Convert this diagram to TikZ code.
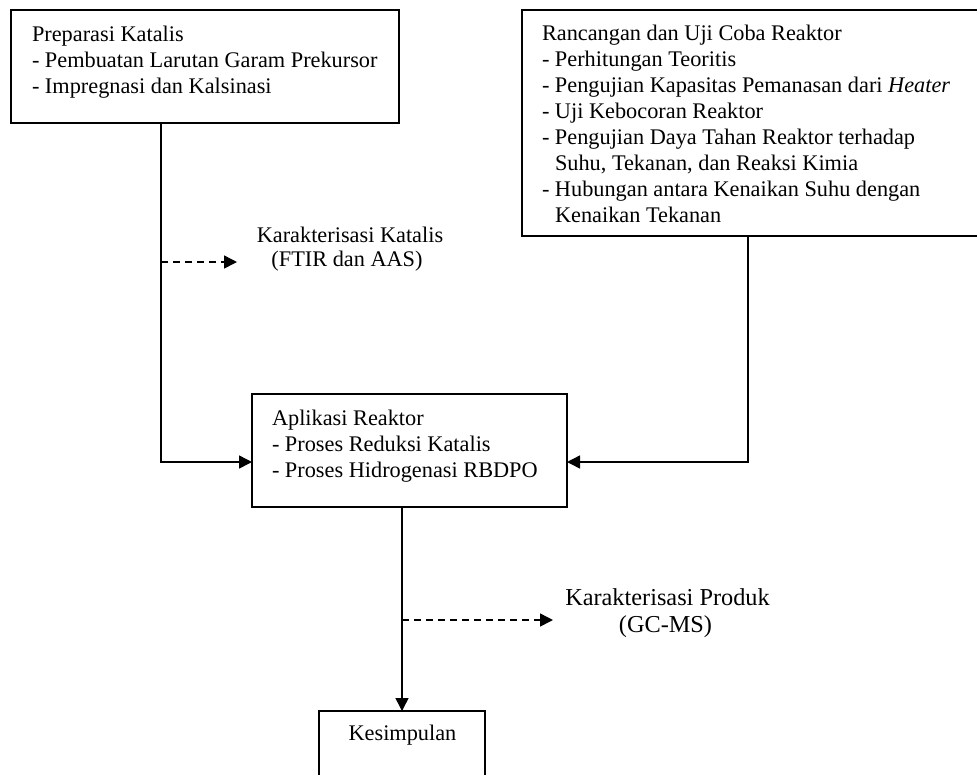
\documentclass[tikz,border=0pt]{standalone}
\usepackage{fontspec}
\setmainfont{Liberation Serif}
\usetikzlibrary{arrows.meta}
\tikzset{
  boxst/.style={draw, line width=1.5pt, inner sep=0pt, outer sep=0pt, anchor=north west},
  txt/.style={inner sep=0pt, outer sep=0pt, anchor=north west, align=left,
    font=\fontsize{22.3}{26}\selectfont},
  lab/.style={inner sep=0pt, outer sep=0pt, anchor=base, font=\fontsize{22.3}{26}\selectfont},
  conn/.style={line width=1.5pt, -{Triangle[length=13pt,width=13pt]}},
  dconn/.style={line width=1.5pt, dash pattern=on 7pt off 5pt, -{Triangle[length=13pt,width=13pt]}}
}
\begin{document}
\begin{tikzpicture}[x=1pt,y=-1pt]
\useasboundingbox (0,0) rectangle (977,774);
\clip (0,0) rectangle (977,774);
\fill[white] (0,0) rectangle (977,774);
% boxes
\node[boxst, minimum width=388pt, minimum height=113pt] (prep) at (11,10) {};
\node[boxst, minimum width=480pt, minimum height=226pt] (reak) at (522,10) {};
\node[boxst, minimum width=315pt, minimum height=113pt] (app) at (252,394) {};
\node[boxst, minimum width=166pt, minimum height=110pt] (kes) at (319,711) {};
% box texts
\node[txt] (prept) at (32,22.8) {\strut Preparasi Katalis\\- Pembuatan Larutan Garam Prekursor\\- Impregnasi dan Kalsinasi};
\node[txt] (reakt) at (542,21.8) {\strut Rancangan dan Uji Coba Reaktor\\- Perhitungan Teoritis\\- Pengujian Kapasitas Pemanasan dari \textit{Heater}\\- Uji Kebocoran Reaktor\\- Pengujian Daya Tahan Reaktor terhadap\\\hphantom{- }Suhu, Tekanan, dan Reaksi Kimia\\- Hubungan antara Kenaikan Suhu dengan\\\hphantom{- }Kenaikan Tekanan};
\node[txt] (appt) at (272,406.8) {\strut Aplikasi Reaktor\\- Proses Reduksi Katalis\\- Proses Hidrogenasi RBDPO};
\node[lab] (kest) at (402.5,740) {Kesimpulan};
% labels
\node[lab] (kat1) at (350,242) {Karakterisasi Katalis};
\node[lab] (kat2) at (347,266) {(FTIR dan AAS)};
\node[lab, font=\fontsize{24.3}{28}\selectfont] (prod1) at (667.5,605) {Karakterisasi Produk};
\node[lab, font=\fontsize{24.3}{28}\selectfont] (prod2) at (665.5,632) {(GC-MS)};
% connectors
\draw[conn] ([xshift=150pt]prep.south west) |- ([yshift=-11.5pt]app.west);
\draw[conn] ([xshift=226pt]reak.south west) |- ([yshift=-11.5pt]app.east);
\draw[conn] ([xshift=150pt]app.south west) -- (kes.north);
\coordinate (d1s) at (161,262);
\coordinate (d1e) at (237,262);
\draw[dconn] (d1s) -- (d1e);
\coordinate (d2s) at (402,620);
\coordinate (d2e) at (553,620);
\draw[dconn] (d2s) -- (d2e);
\end{tikzpicture}
\end{document}
